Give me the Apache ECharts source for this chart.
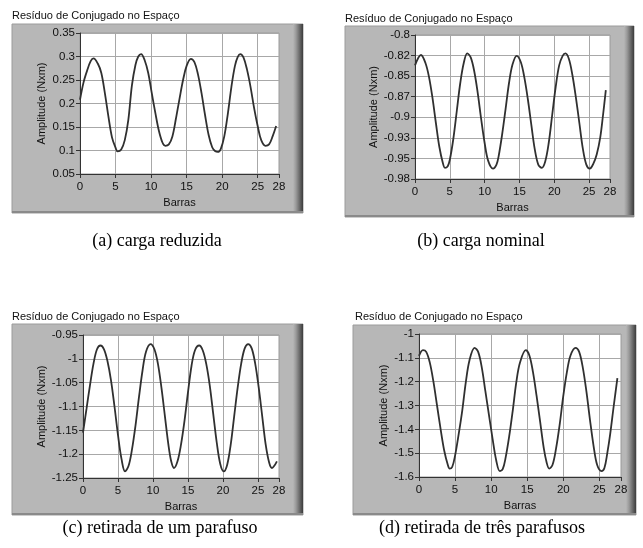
<!DOCTYPE html>
<html><head><meta charset="utf-8">
<script src="https://cdn.jsdelivr.net/npm/echarts@6/dist/echarts.min.js"></script>
<style>html,body{margin:0;padding:0;background:#fff}#c{width:643px;height:548px}</style>
</head><body><div id="c"></div>
<script>
// ---- data ----
const panelTitle = 'Resíduo de Conjugado no Espaço';
const yAxisName = 'Amplitude (Nxm)';
const xAxisName = 'Barras';
const captions = ['(a) carga reduzida', '(b) carga nominal', '(c) retirada de um parafuso', '(d) retirada de três parafusos'];
const xTicks = [0, 5, 10, 15, 20, 25, 28];

const aX = [0,0.5,1,1.5,1.9,2.5,3,3.5,4,4.5,5,5.3,5.8,6.3,6.8,7.3,7.8,8.2,8.6,9.1,9.6,10.1,10.6,11.1,11.6,12,12.5,13,13.5,14,14.5,15,15.6,16.1,16.6,17.1,17.6,18.1,18.6,19,19.4,19.8,20.3,20.8,21.3,21.8,22.2,22.55,23,23.5,24,24.5,25,25.5,26.1,26.6,27.1,27.6];
const aY = [0.208,0.245,0.27,0.29,0.296,0.285,0.265,0.222,0.172,0.128,0.106,0.098,0.102,0.122,0.165,0.238,0.282,0.3,0.305,0.292,0.265,0.222,0.18,0.142,0.117,0.110,0.113,0.13,0.168,0.21,0.25,0.28,0.295,0.288,0.262,0.222,0.175,0.133,0.107,0.099,0.097,0.103,0.13,0.178,0.235,0.28,0.299,0.305,0.298,0.272,0.235,0.19,0.152,0.122,0.11,0.113,0.13,0.152];

const bX = [0,0.86,1.5,2,2.5,3,3.5,4,4.3,4.7,5,5.5,6,6.5,7,7.5,8,8.5,9,9.5,10,10.5,11.2,11.7,12,12.5,13,13.5,14,14.6,15.2,15.7,16.2,16.7,17.2,17.7,18.2,18.7,19.2,19.7,20.2,20.7,21.2,21.6,22.1,22.6,23.1,23.6,24.1,24.6,25.1,25.6,26.1,26.6,27,27.4];
const bY = [-0.838,-0.825,-0.835,-0.852,-0.878,-0.91,-0.94,-0.96,-0.966,-0.964,-0.956,-0.93,-0.895,-0.86,-0.835,-0.823,-0.828,-0.845,-0.872,-0.905,-0.935,-0.957,-0.967,-0.962,-0.952,-0.925,-0.893,-0.86,-0.837,-0.826,-0.834,-0.853,-0.88,-0.912,-0.943,-0.962,-0.966,-0.958,-0.935,-0.9,-0.865,-0.838,-0.826,-0.823,-0.83,-0.85,-0.878,-0.91,-0.942,-0.962,-0.967,-0.961,-0.949,-0.928,-0.9,-0.869];
const bTickLabels = ['-0.98', '-0.95', '-0.93', '-0.9', '-0.87', '-0.85', '-0.82', '-0.8'];

const cX = [0,0.5,1,1.5,2,2.5,3,3.5,4,4.5,5,5.5,6,6.5,7,7.5,8,8.5,9,9.66,10.2,10.7,11.2,11.7,12.2,12.6,13,13.5,14,14.5,15,15.5,16,16.6,17.1,17.6,18.1,18.6,19.1,19.6,20.1,20.6,21.1,21.6,22.1,22.6,23.1,23.6,24.1,24.6,25.1,25.6,26.1,26.6,27,27.3,27.7];
const cY = [-1.155,-1.105,-1.055,-1.01,-0.98,-0.972,-0.98,-1.005,-1.045,-1.1,-1.16,-1.21,-1.236,-1.225,-1.19,-1.14,-1.08,-1.025,-0.985,-0.969,-0.98,-1.01,-1.06,-1.12,-1.18,-1.215,-1.229,-1.215,-1.18,-1.13,-1.07,-1.015,-0.982,-0.972,-0.982,-1.01,-1.055,-1.115,-1.175,-1.22,-1.236,-1.222,-1.18,-1.12,-1.06,-1.01,-0.978,-0.969,-0.978,-1.01,-1.06,-1.12,-1.18,-1.218,-1.229,-1.225,-1.215];

const dX = [0,0.55,1,1.5,2,2.5,3,3.5,4,4.25,4.6,5,5.5,6,6.5,7,7.7,8.2,8.7,9.2,9.7,10.2,10.7,11.2,11.6,12,12.5,13,13.5,14,14.8,15.3,15.8,16.3,16.8,17.3,17.7,18.05,18.5,19,19.5,20,20.5,21,21.7,22.2,22.7,23.2,23.7,24.2,24.7,25.3,25.7,26.1,26.5,27,27.5];
const dY = [-1.092,-1.068,-1.075,-1.12,-1.2,-1.3,-1.4,-1.49,-1.55,-1.565,-1.558,-1.51,-1.42,-1.32,-1.2,-1.11,-1.058,-1.075,-1.14,-1.24,-1.34,-1.44,-1.53,-1.575,-1.567,-1.52,-1.43,-1.32,-1.2,-1.12,-1.068,-1.09,-1.16,-1.26,-1.37,-1.48,-1.54,-1.565,-1.55,-1.48,-1.38,-1.26,-1.16,-1.09,-1.058,-1.075,-1.14,-1.24,-1.36,-1.47,-1.55,-1.575,-1.562,-1.5,-1.42,-1.3,-1.185];

const yRanges = [
  {min: 0.05, max: 0.35, interval: 0.05},
  {min: -0.98, max: -0.8, labels: bTickLabels},
  {min: -1.25, max: -0.95, interval: 0.05},
  {min: -1.6, max: -1, interval: 0.1}
];
const seriesX = [aX, bX, cX, dX];
const seriesY = [aY, bY, cY, dY];

// ---- layout ----
const layout = [
  {frame: [12, 24, 291, 189], plot: [80, 33, 279, 174], title: [12, 16], caption: [157, 241], nameGap: 33},
  {frame: [345, 26, 289, 191], plot: [415, 35, 610, 179], title: [345, 19], caption: [481, 241], nameGap: 35},
  {frame: [12, 324, 291, 191], plot: [83, 335, 279, 478], title: [12, 317], caption: [160, 528], nameGap: 36},
  {frame: [353, 325, 283, 190], plot: [419, 334, 621, 477], title: [355, 317], caption: [482, 528], nameGap: 30}
];

const FONT = 'Liberation Sans, Arial, sans-serif';
const grids = [], xAxes = [], yAxes = [], series = [], graphics = [];

layout.forEach((L, i) => {
  const [px0, py0, px1, py1] = L.plot;
  grids.push({left: px0, top: py0, width: px1 - px0, height: py1 - py0, show: true,
    backgroundColor: '#ffffff', borderColor: '#9a9a9a', borderWidth: 1, containLabel: false});
  xAxes.push({
    type: 'value', gridIndex: i, min: 0, max: 28,
    name: xAxisName, nameLocation: 'middle', nameGap: 23,
    nameTextStyle: {fontFamily: FONT, fontSize: 11, color: '#111'},
    axisLine: {show: true, onZero: false, lineStyle: {color: '#333', width: 1}},
    axisTick: {show: true, length: 4, customValues: xTicks, lineStyle: {color: '#333'}},
    axisLabel: {customValues: xTicks, margin: 7, fontFamily: FONT, fontSize: 11.5, color: '#111', showMinLabel: true, showMaxLabel: true},
    splitLine: {show: true, lineStyle: {color: '#a8a8a8', width: 1}}
  });
  const R = yRanges[i];
  let yTickVals;
  if (R.labels) {
    yTickVals = R.labels.map((_, k) => R.min + k * (R.max - R.min) / (R.labels.length - 1));
  } else {
    yTickVals = [];
    const n = Math.round((R.max - R.min) / R.interval);
    for (let k = 0; k <= n; k++) yTickVals.push(+(R.min + k * R.interval).toFixed(4));
  }
  yAxes.push({
    type: 'value', gridIndex: i, min: R.min, max: R.max,
    name: yAxisName, nameLocation: 'middle', nameGap: L.nameGap,
    nameTextStyle: {fontFamily: FONT, fontSize: 11, color: '#111'},
    axisLine: {show: true, onZero: false, lineStyle: {color: '#333', width: 1}},
    axisTick: {show: true, length: 4, customValues: yTickVals, lineStyle: {color: '#333'}},
    axisLabel: {customValues: yTickVals, margin: 5, fontFamily: FONT, fontSize: 11.5, color: '#111',
      showMinLabel: true, showMaxLabel: true,
      formatter: R.labels ? (v) => {
        let best = 0, bd = 1e9;
        yTickVals.forEach((t, k) => { const d = Math.abs(t - v); if (d < bd) { bd = d; best = k; } });
        return R.labels[best];
      } : (v) => String(+v.toFixed(3))},
    splitLine: {show: true, lineStyle: {color: '#a8a8a8', width: 1}}
  });
  series.push({
    type: 'line', xAxisIndex: i, yAxisIndex: i,
    data: seriesX[i].map((x, k) => [x, seriesY[i][k]]),
    showSymbol: false, smooth: 0.35,
    lineStyle: {color: '#303030', width: 1.8},
    z: 5
  });
  const [fx, fy, fw, fh] = L.frame;
  graphics.push({type: 'rect', z: -10, shape: {x: fx, y: fy, width: fw, height: fh},
    style: {fill: '#b7b7b7', stroke: '#9c9c9c', lineWidth: 1}});
  graphics.push({type: 'rect', z: -9, shape: {x: fx + fw - 10, y: fy, width: 10, height: fh},
    style: {fill: new echarts.graphic.LinearGradient(0, 0, 1, 0, [
      {offset: 0, color: '#b7b7b7'}, {offset: 0.3, color: '#9a9a9a'}, {offset: 1, color: '#3c3c3c'}])}});
  graphics.push({type: 'rect', z: -9, shape: {x: fx, y: fy + fh - 2, width: fw, height: 2},
    style: {fill: '#8a8a8a'}});
  graphics.push({type: 'text', z: 10, x: L.title[0], y: L.title[1],
    style: {text: panelTitle, font: '11px ' + FONT, fill: '#111', align: 'left', verticalAlign: 'middle'}});
  graphics.push({type: 'text', z: 10, x: L.caption[0], y: L.caption[1],
    style: {text: captions[i], font: '18px "Liberation Serif", "Times New Roman", serif', fill: '#000', align: 'center', verticalAlign: 'middle'}});
});

const chart = echarts.init(document.getElementById('c'), null, {renderer: 'canvas'});
chart.setOption({
  animation: false,
  backgroundColor: '#ffffff',
  grid: grids, xAxis: xAxes, yAxis: yAxes, series: series,
  graphic: {elements: graphics}
});
</script></body></html>
